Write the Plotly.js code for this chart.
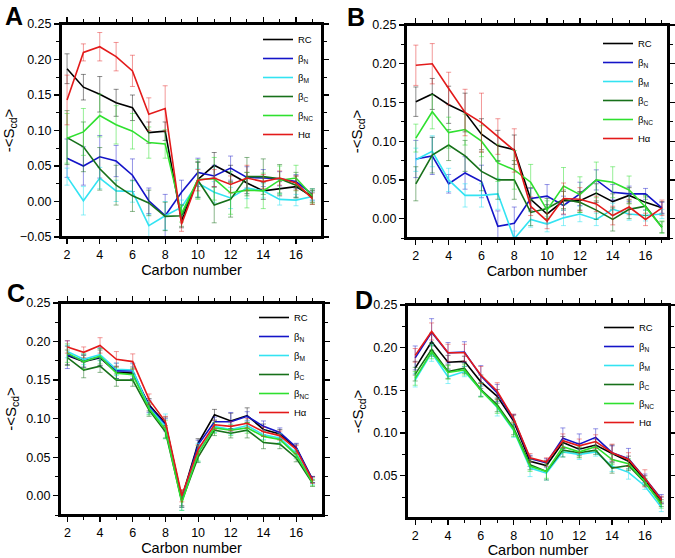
<!DOCTYPE html>
<html>
<head>
<meta charset="utf-8">
<script src="https://cdn.plot.ly/plotly-3.0.1.min.js"></script>
<style>html,body{margin:0;padding:0;background:#fff;}#chart{width:675px;height:558px;}</style>
</head>
<body>
<div id="chart"></div>
<script>
// ---------- DATA ----------
const carbons = [2,3,4,5,6,7,8,9,10,11,12,13,14,15,16,17];
const seriesNames = ["RC","β<sub>N</sub>","β<sub>M</sub>","β<sub>C</sub>","β<sub>NC</sub>","Hα"];
const panelLabels = ["A","B","C","D"];
const xTitle = "Carbon number";
const yTitle = "-&lt;S<sub>cd</sub>&gt;";

// Panel A
const A_RC  = [0.187,0.161,0.151,0.139,0.132,0.097,0.099,-0.027,0.031,0.051,0.039,0.026,0.015,0.018,0.021,0.007];
const A_bN  = [0.061,0.050,0.063,0.057,0.037,0.001,-0.020,0.013,0.041,0.036,0.047,0.034,0.033,0.032,0.028,0.010];
const A_bM  = [0.035,0.001,0.033,0.015,0.014,-0.034,-0.020,-0.008,0.026,0.013,0.005,0.019,0.015,0.003,0.002,0.007];
const A_bC  = [0.090,0.077,0.046,0.023,0.008,-0.002,-0.021,-0.020,0.030,-0.005,0.003,0.035,0.035,0.032,0.023,0.006];
const A_bNC = [0.089,0.098,0.121,0.108,0.099,0.083,0.081,-0.017,0.031,0.032,0.012,0.016,0.015,0.030,0.033,0.008];
const A_Ha  = [0.143,0.210,0.218,0.204,0.184,0.123,0.131,-0.032,0.030,0.033,0.024,0.033,0.028,0.033,0.026,0.004];
const A_eRC  = [0.021,0.018,0.025,0.019,0.018,0.015,0.013,0.010,0.025,0.018,0.012,0.015,0.012,0.010,0.015,0.008];
const A_eN   = [0.027,0.027,0.030,0.022,0.023,0.018,0.030,0.017,0.020,0.015,0.017,0.015,0.012,0.010,0.010,0.008];
const A_eM   = [0.012,0.020,0.015,0.015,0.015,0.016,0.020,0.010,0.020,0.015,0.015,0.015,0.010,0.008,0.008,0.006];
const A_eC   = [0.038,0.035,0.030,0.028,0.022,0.018,0.020,0.015,0.025,0.025,0.025,0.027,0.025,0.020,0.018,0.010];
const A_eNC  = [0.035,0.033,0.030,0.027,0.025,0.022,0.020,0.012,0.028,0.030,0.030,0.025,0.025,0.020,0.018,0.010];
const A_eHa  = [0.035,0.012,0.020,0.020,0.022,0.023,0.032,0.010,0.015,0.012,0.012,0.018,0.010,0.010,0.010,0.008];

// Panel B
const B_RC  = [0.151,0.161,0.147,0.137,0.109,0.094,0.089,0.025,0.006,0.023,0.023,0.033,0.022,0.030,0.021,0.014];
const B_bN  = [0.077,0.081,0.045,0.059,0.048,-0.010,-0.006,0.026,0.029,0.017,0.032,0.050,0.034,0.032,0.032,0.014];
const B_bM  = [0.076,0.087,0.050,0.030,0.030,0.032,-0.026,-0.001,-0.007,0.001,0.006,-0.001,0.012,0.006,0.004,0.006];
const B_bC  = [0.045,0.082,0.095,0.081,0.061,0.050,0.050,0.008,0.013,0.025,0.021,0.011,-0.001,0.012,0.016,-0.011];
const B_bNC = [0.104,0.138,0.111,0.115,0.100,0.072,0.063,0.047,0.011,0.042,0.031,0.050,0.047,0.037,0.015,-0.011];
const B_Ha  = [0.198,0.200,0.168,0.137,0.124,0.106,0.088,0.016,-0.003,0.026,0.025,0.019,0.004,0.015,-0.001,0.014];
const B_eRC  = [0.019,0.020,0.024,0.025,0.020,0.020,0.019,0.015,0.012,0.012,0.012,0.012,0.010,0.010,0.010,0.008];
const B_eN   = [0.024,0.024,0.012,0.021,0.021,0.020,0.021,0.013,0.015,0.012,0.015,0.013,0.010,0.010,0.007,0.007];
const B_eM   = [0.015,0.020,0.015,0.015,0.015,0.020,0.010,0.010,0.010,0.010,0.010,0.008,0.008,0.008,0.007,0.006];
const B_eC   = [0.022,0.023,0.020,0.020,0.025,0.025,0.025,0.017,0.013,0.012,0.013,0.012,0.015,0.012,0.012,0.007];
const B_eNC  = [0.018,0.022,0.020,0.020,0.020,0.024,0.025,0.023,0.012,0.024,0.023,0.023,0.020,0.018,0.015,0.008];
const B_eHa  = [0.026,0.026,0.021,0.030,0.038,0.023,0.028,0.012,0.010,0.020,0.015,0.010,0.012,0.010,0.008,0.010];

// Panel C
const C_RC  = [0.182,0.174,0.179,0.160,0.159,0.118,0.094,-0.003,0.068,0.105,0.097,0.104,0.086,0.080,0.062,0.021];
const C_bN  = [0.183,0.175,0.180,0.162,0.162,0.116,0.092,-0.005,0.066,0.096,0.096,0.103,0.090,0.082,0.063,0.021];
const C_bM  = [0.187,0.177,0.183,0.164,0.163,0.114,0.090,-0.007,0.056,0.090,0.086,0.091,0.079,0.075,0.055,0.019];
const C_bC  = [0.179,0.163,0.168,0.150,0.150,0.111,0.083,-0.007,0.050,0.085,0.081,0.085,0.069,0.067,0.049,0.016];
const C_bNC = [0.185,0.174,0.181,0.159,0.157,0.113,0.086,-0.009,0.055,0.088,0.085,0.088,0.077,0.073,0.053,0.017];
const C_Ha  = [0.193,0.186,0.195,0.177,0.174,0.125,0.096,0.000,0.060,0.092,0.090,0.094,0.083,0.078,0.060,0.020];
const C_eRC  = [0.012,0.008,0.010,0.008,0.008,0.008,0.008,0.010,0.006,0.007,0.010,0.010,0.007,0.006,0.005,0.004];
const C_eN   = [0.018,0.008,0.012,0.010,0.010,0.008,0.008,0.010,0.006,0.006,0.012,0.006,0.007,0.006,0.005,0.004];
const C_eM   = [0.008,0.007,0.008,0.008,0.008,0.008,0.016,0.012,0.012,0.008,0.007,0.007,0.006,0.006,0.005,0.004];
const C_eC   = [0.010,0.010,0.008,0.008,0.008,0.008,0.008,0.008,0.007,0.007,0.006,0.010,0.008,0.006,0.005,0.004];
const C_eNC  = [0.012,0.010,0.010,0.008,0.008,0.008,0.012,0.010,0.010,0.007,0.007,0.007,0.006,0.006,0.005,0.004];
const C_eHa  = [0.008,0.007,0.010,0.010,0.010,0.007,0.007,0.008,0.006,0.006,0.006,0.006,0.006,0.006,0.005,0.004];

// Panel D
const D_RC  = [0.176,0.207,0.183,0.184,0.160,0.143,0.114,0.067,0.062,0.089,0.081,0.086,0.076,0.067,0.045,0.021];
const D_bN  = [0.188,0.218,0.194,0.195,0.167,0.147,0.116,0.070,0.065,0.094,0.087,0.095,0.077,0.070,0.047,0.023];
const D_bM  = [0.162,0.194,0.166,0.172,0.151,0.130,0.103,0.059,0.053,0.078,0.075,0.078,0.061,0.054,0.038,0.013];
const D_bC  = [0.169,0.198,0.172,0.176,0.151,0.133,0.106,0.063,0.055,0.080,0.077,0.080,0.059,0.062,0.042,0.018];
const D_bNC = [0.164,0.195,0.171,0.174,0.150,0.131,0.104,0.061,0.055,0.084,0.078,0.084,0.069,0.064,0.043,0.016];
const D_Ha  = [0.191,0.219,0.194,0.194,0.168,0.149,0.117,0.071,0.066,0.091,0.085,0.090,0.077,0.069,0.047,0.022];
const D_eRC  = [0.008,0.010,0.008,0.006,0.008,0.008,0.007,0.006,0.006,0.007,0.007,0.007,0.010,0.006,0.005,0.004];
const D_eN   = [0.014,0.016,0.012,0.012,0.012,0.010,0.006,0.004,0.005,0.012,0.012,0.010,0.008,0.012,0.005,0.005];
const D_eM   = [0.008,0.010,0.008,0.006,0.008,0.010,0.008,0.010,0.008,0.006,0.006,0.005,0.006,0.008,0.004,0.005];
const D_eC   = [0.008,0.008,0.008,0.006,0.008,0.008,0.008,0.006,0.010,0.008,0.006,0.005,0.006,0.006,0.004,0.004];
const D_eNC  = [0.008,0.008,0.008,0.006,0.008,0.008,0.008,0.006,0.008,0.007,0.006,0.005,0.006,0.006,0.004,0.004];
const D_eHa  = [0.008,0.010,0.010,0.010,0.010,0.010,0.005,0.005,0.005,0.008,0.008,0.008,0.010,0.008,0.010,0.004];

const panelValues = [
  [A_RC,A_bN,A_bM,A_bC,A_bNC,A_Ha],
  [B_RC,B_bN,B_bM,B_bC,B_bNC,B_Ha],
  [C_RC,C_bN,C_bM,C_bC,C_bNC,C_Ha],
  [D_RC,D_bN,D_bM,D_bC,D_bNC,D_Ha]
];
const panelErrors = [
  [A_eRC,A_eN,A_eM,A_eC,A_eNC,A_eHa],
  [B_eRC,B_eN,B_eM,B_eC,B_eNC,B_eHa],
  [C_eRC,C_eN,C_eM,C_eC,C_eNC,C_eHa],
  [D_eRC,D_eN,D_eM,D_eC,D_eNC,D_eHa]
];

// ---------- STYLE / LAYOUT ----------
const colors = ["#000000","#1414c8","#33e3f2","#17701a","#2fe02f","#e31a1a"];
const errColors = ["rgba(0,0,0,0.45)","rgba(20,20,200,0.45)","rgba(51,227,242,0.55)","rgba(23,112,26,0.5)","rgba(47,224,47,0.5)","rgba(227,26,26,0.45)"];
const W = 675, H = 558;
const FONT = "Liberation Sans, Arial, sans-serif";
// pixel boxes of the four plot areas: [left, right, top, bottom]
const boxes = [[61,322,24,237],[406,668,25,238],[60,323,303,515],[407,669,305,518]];
const xRanges = [[1.63,17.59],[1.4,17.37],[1.55,17.64],[1.5,17.47]];
const yRanges = [[-0.05,0.25],[-0.025,0.25],[-0.025,0.25],[0.0005,0.25]];
const legendPos = [[258,25],[598,29],[254,303],[599,313]];
const letterPos = [[14,16],[356,17],[16,293],[364,300]];

const data = [];
const layout = {
  width: W, height: H,
  margin: {l:0,r:0,t:0,b:0},
  paper_bgcolor: "#ffffff", plot_bgcolor: "#ffffff",
  font: {family: FONT, color: "#000"},
  showlegend: true,
  annotations: [],
  shapes: []
};

for (let p = 0; p < 4; p++) {
  const n = p + 1;
  const xa = n === 1 ? "x" : "x" + n;
  const ya = n === 1 ? "y" : "y" + n;
  const lg = n === 1 ? "legend" : "legend" + n;
  for (let s = 0; s < 6; s++) {
    data.push({
      type: "scatter", mode: "lines",
      x: carbons, y: panelValues[p][s],
      name: seriesNames[s],
      xaxis: xa, yaxis: ya, legend: lg,
      line: {color: colors[s], width: 1.6},
      error_y: {type: "data", array: panelErrors[p][s], visible: true,
                color: errColors[s], thickness: 1, width: 2.5}
    });
  }
  const [l, r, t, b] = boxes[p];
  const xdom = [l / W, r / W];
  const ydom = [1 - b / H, 1 - t / H];
  const xKey = n === 1 ? "xaxis" : "xaxis" + n;
  const yKey = n === 1 ? "yaxis" : "yaxis" + n;
  const yt = p === 3 ? [0.05,0.10,0.15,0.20,0.25] : null;
  layout[xKey] = {
    domain: xdom, anchor: ya, range: xRanges[p],
    showline: true, linecolor: "#000000", linewidth: 2, mirror: "allticks",
    ticks: "outside", ticklen: 5, tickwidth: 1.2, tickcolor: "#000",
    tick0: 0, dtick: 2,
    minor: {ticks: "outside", ticklen: 3, dtick: 1, tick0: 0, tickcolor: "#000", tickwidth: 1},
    showgrid: false, zeroline: false,
    tickfont: {size: 12.5, family: FONT},
    title: {text: xTitle, font: {size: 14.5, family: FONT}, standoff: 2}
  };
  layout[yKey] = {
    domain: ydom, anchor: xa, range: yRanges[p],
    showline: true, linecolor: "#000000", linewidth: 2, mirror: "allticks",
    ticks: "outside", ticklen: 5, tickwidth: 1.2, tickcolor: "#000",
    tickformat: ".2f",
    minor: {ticks: "outside", ticklen: 3, dtick: 0.025, tick0: 0, tickcolor: "#000", tickwidth: 1},
    showgrid: false, zeroline: false,
    tickfont: {size: 12.5, family: FONT},
    title: {text: yTitle, font: {size: 15, family: FONT}, standoff: 6}
  };
  if (yt) { layout[yKey].tickvals = yt; } else { layout[yKey].tick0 = 0; layout[yKey].dtick = 0.05; }
  // frame around the plot area (paper coordinates of the axis domains)
  layout.shapes.push({
    type: "rect", xref: "paper", yref: "paper",
    x0: xdom[0], x1: xdom[1], y0: ydom[0], y1: ydom[1], layer: "above",
    line: {color: "#000000", width: 2}, fillcolor: "rgba(0,0,0,0)"
  });
  layout[lg] = {
    x: legendPos[p][0] / W, y: 1 - legendPos[p][1] / H,
    xanchor: "left", yanchor: "top",
    bgcolor: "rgba(0,0,0,0)", borderwidth: 0,
    font: {size: 9.5, family: FONT}, tracegroupgap: 0, itemwidth: 30
  };
  layout.annotations.push({
    text: "<b>" + panelLabels[p] + "</b>", xref: "paper", yref: "paper",
    x: letterPos[p][0] / W, y: 1 - letterPos[p][1] / H,
    xanchor: "center", yanchor: "middle", showarrow: false,
    font: {size: 25, family: FONT, color: "#000"}
  });
}

Plotly.newPlot("chart", data, layout, {staticPlot: true, displayModeBar: false});
</script>
</body>
</html>
